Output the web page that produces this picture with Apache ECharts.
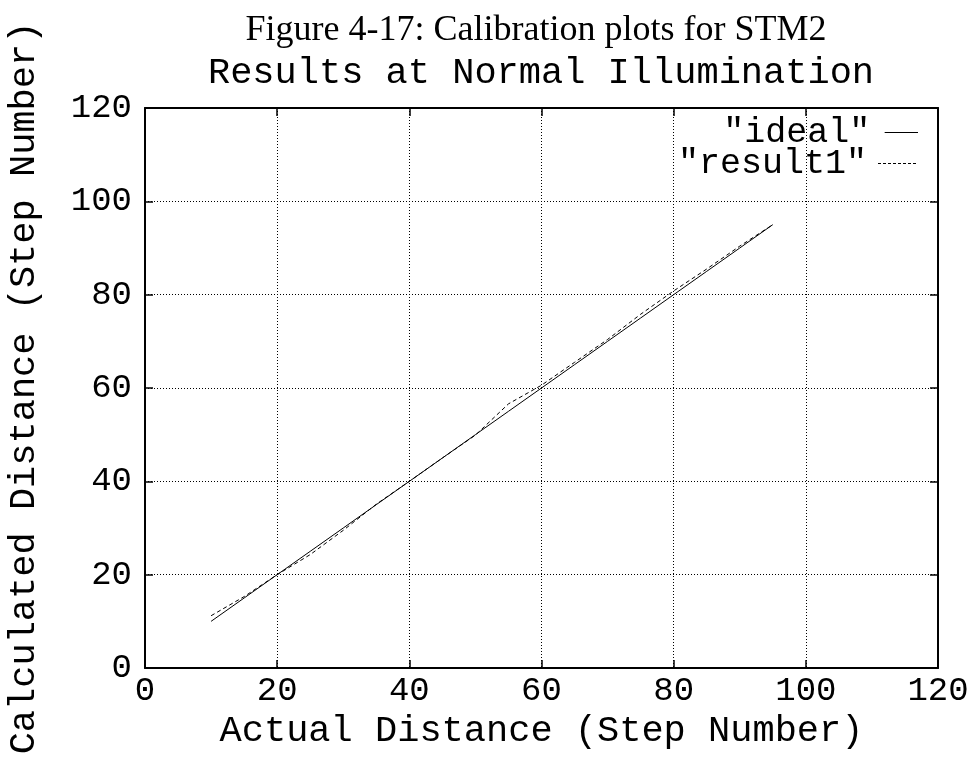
<!DOCTYPE html>
<html>
<head>
<meta charset="utf-8">
<script src="https://cdn.jsdelivr.net/npm/echarts@6/dist/echarts.min.js"></script>
<style>
html,body{margin:0;padding:0;background:#fff;}
#c{width:974px;height:757px;}
</style>
</head>
<body>
<div id="c"></div>
<script>
var captionText = 'Figure 4-17: Calibration plots for STM2';
var titleText = 'Results at Normal Illumination';
var xName = 'Actual Distance (Step Number)';
var yName = 'Calculated Distance (Step Number)';
var seriesNames = ['"ideal"', '"result1"'];
var actual = [10, 15, 20, 25, 30, 35, 40, 45, 50, 55, 60, 65, 70, 75, 80, 85, 90, 95];
var ideal = [10, 15, 20, 25, 30, 35, 40, 45, 50, 55, 60, 65, 70, 75, 80, 85, 90, 95];
var result1 = [11.2, 15.3, 20, 24.3, 29.5, 35.1, 40, 45, 49.9, 56.6, 60.6, 65.5, 70.4, 75.8, 80.8, 85.5, 90.4, 95];
var axisMin = 0, axisMax = 120, axisStep = 20;

function pairs(xs, ys) { return xs.map(function (x, i) { return [x, ys[i]]; }); }

var mono = '"Liberation Mono", "DejaVu Sans Mono", monospace';
var chart = echarts.init(document.getElementById('c'), null, {renderer: 'canvas'});

function baseAxis(extra) {
  var a = {
    type: 'value', min: axisMin, max: axisMax, interval: axisStep,
    axisLine: {show: true, onZero: false, lineStyle: {color: '#000', width: 2}},
    axisTick: {show: true, inside: true, length: 8, lineStyle: {color: '#000', width: 1.5}},
    splitLine: {show: false},
    axisLabel: {show: false}
  };
  for (var k in extra) a[k] = extra[k];
  return a;
}

var solidIcon = 'path://M0,0h40v1.2h-40z';
var dashedIcon = 'path://M0,0h3v1h-3z M5,0h3v1h-3z M10,0h3v1h-3z M15,0h3v1h-3z M20,0h3v1h-3z M25,0h3v1h-3z M30,0h3v1h-3z M35,0h3v1h-3z M40,0h0v1h0z';

function legendItem(name, icon, top) {
  return {
    data: [{name: name, icon: icon}], right: 51, top: top, orient: 'vertical', align: 'right',
    itemWidth: 40, itemHeight: 1, itemGap: 0, selectedMode: false,
    itemStyle: {color: '#000', borderWidth: 0},
    textStyle: {fontFamily: mono, fontSize: 35, color: '#000', padding: [0, 6, 0, 0]}
  };
}

var option = {
  animation: false,
  backgroundColor: '#fff',
  grid: {left: 145, right: 36, top: 108, bottom: 89, containLabel: false, outerBoundsMode: 'none'},
  graphic: [
    {type: 'text', x: 536, y: 49, style: {text: captionText, font: '36px "Liberation Serif", "DejaVu Serif", serif', fill: '#000', textAlign: 'center', textVerticalAlign: 'bottom'}},
    {type: 'text', x: 541, y: 92, style: {text: titleText, font: '37px ' + mono, fill: '#000', textAlign: 'center', textVerticalAlign: 'bottom'}}
  ],
  legend: [
    legendItem(seriesNames[0], solidIcon, 110),
    legendItem(seriesNames[1], dashedIcon, 141)
  ],
  xAxis: [
    baseAxis({
      position: 'bottom',
      name: xName, nameLocation: 'middle', nameGap: 19,
      nameTextStyle: {fontFamily: mono, fontSize: 37, color: '#000'},
      axisLabel: {show: true, fontFamily: mono, fontSize: 34, color: '#000', margin: 6},
      splitLine: {show: true, lineStyle: {color: '#000', width: 1, type: [1, 2]}}
    }),
    baseAxis({position: 'top'})
  ],
  yAxis: [
    baseAxis({
      position: 'left',
      name: yName, nameLocation: 'middle', nameGap: 102,
      nameTextStyle: {fontFamily: mono, fontSize: 37, color: '#000'},
      axisLabel: {show: true, fontFamily: mono, fontSize: 34, color: '#000', margin: 13},
      splitLine: {show: true, lineStyle: {color: '#000', width: 1, type: [1, 2]}}
    }),
    baseAxis({position: 'right'})
  ],
  series: [
    {name: seriesNames[0], type: 'line', data: pairs(actual, ideal), symbol: 'none', showSymbol: false,
     lineStyle: {color: '#000', width: 1, type: 'solid'}, itemStyle: {color: '#000'}, xAxisIndex: 0, yAxisIndex: 0},
    {name: seriesNames[1], type: 'line', data: pairs(actual, result1), symbol: 'none', showSymbol: false,
     lineStyle: {color: '#000', width: 1, type: [4, 3]}, itemStyle: {color: '#000'}, xAxisIndex: 0, yAxisIndex: 0}
  ]
};
chart.setOption(option);
</script>
</body>
</html>
